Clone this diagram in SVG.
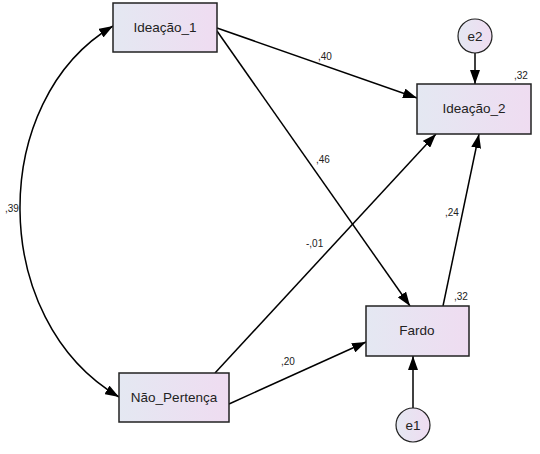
<svg xmlns="http://www.w3.org/2000/svg" width="540" height="454" viewBox="0 0 540 454">
<defs>
<linearGradient id="g" x1="0" y1="0" x2="1" y2="0">
<stop offset="0" stop-color="#e4e8f2"/>
<stop offset="1" stop-color="#efdcf1"/>
</linearGradient>
<marker id="a" markerUnits="userSpaceOnUse" markerWidth="15" markerHeight="10" refX="14" refY="5" orient="auto-start-reverse">
<path d="M0,0 L14,5 L0,10 z" fill="#000"/>
</marker>
</defs>
<style>
.box{fill:url(#g);stroke:#222;stroke-width:1.5}
.circ{fill:url(#g);stroke:#222;stroke-width:1.2}
.lbl{font-family:"Liberation Sans",Arial,sans-serif;font-size:13.5px;fill:#222;text-anchor:middle}
.num{font-family:"Liberation Sans",Arial,sans-serif;font-size:10px;fill:#222}
.c{fill:none;stroke:#000;stroke-width:1.5;marker-end:url(#a)}
</style>
<g id="connectors">
<path class="c" d="M113,26 C-12,100 -12,320 119,397" marker-start="url(#a)"/>
<line class="c" x1="217" y1="28" x2="417" y2="98"/>
<line class="c" x1="217" y1="31" x2="410" y2="306"/>
<line class="c" x1="215" y1="373" x2="436" y2="134"/>
<line class="c" x1="443" y1="306" x2="479" y2="134"/>
<line class="c" x1="229" y1="404" x2="366" y2="342"/>
<line class="c" x1="475" y1="53" x2="475" y2="84"/>
<line class="c" x1="413" y1="408" x2="413" y2="356"/>
</g>
<g id="labels">
<text class="num" x="5" y="212">,39</text>
<text class="num" x="318" y="60">,40</text>
<text class="num" x="316" y="163">,46</text>
<text class="num" x="306" y="247">-,01</text>
<text class="num" x="445" y="216">,24</text>
<text class="num" x="454" y="300">,32</text>
<text class="num" x="514" y="79">,32</text>
<text class="num" x="281" y="365">,20</text>
</g>
<g id="ideacao1">
<rect class="box" x="113" y="3" width="104" height="49"/>
<text class="lbl" x="165" y="32">Ideação_1</text>
</g>
<g id="ideacao2">
<rect class="box" x="417" y="84" width="114" height="50"/>
<text class="lbl" x="474" y="113">Ideação_2</text>
</g>
<g id="fardo">
<rect class="box" x="366" y="306" width="103" height="50"/>
<text class="lbl" x="417" y="335">Fardo</text>
</g>
<g id="naopertenca">
<rect class="box" x="119" y="373" width="110" height="49"/>
<text class="lbl" x="174" y="402">Não_Pertença</text>
</g>
<g id="e2">
<circle class="circ" cx="475" cy="36" r="17"/>
<text class="lbl" x="475" y="41">e2</text>
</g>
<g id="e1">
<circle class="circ" cx="413" cy="425" r="17"/>
<text class="lbl" x="413" y="430">e1</text>
</g>
</svg>
